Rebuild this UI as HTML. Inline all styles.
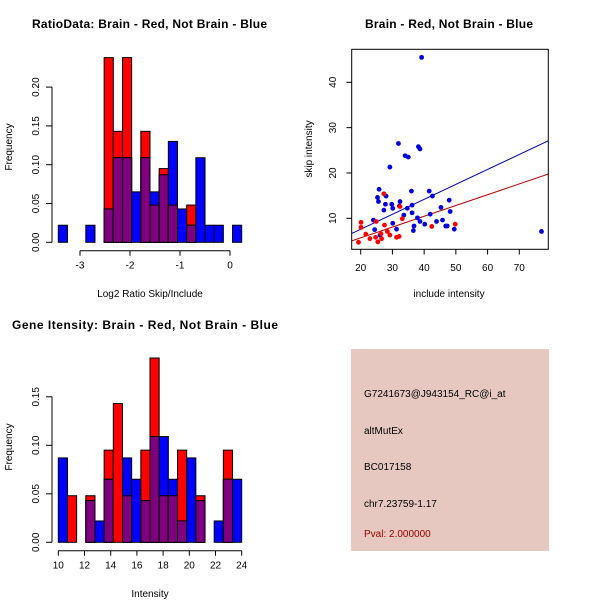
<!DOCTYPE html>
<html><head><meta charset="utf-8"><style>
body{margin:0;background:#fff}
svg text{font-family:"Liberation Sans",sans-serif}
</style></head><body>
<svg id="s" width="600" height="600" viewBox="0 0 600 600" xmlns="http://www.w3.org/2000/svg">
<rect width="600" height="600" fill="#fff"/>
<text x="149.5" y="28" font-size="12" font-weight="bold" text-anchor="middle" textLength="235">RatioData: Brain - Red, Not Brain - Blue</text>
<text x="449" y="28" font-size="12" font-weight="bold" text-anchor="middle" textLength="168">Brain - Red, Not Brain - Blue</text>
<text x="145" y="329" font-size="12" font-weight="bold" text-anchor="middle" textLength="266">Gene Itensity: Brain - Red, Not Brain - Blue</text>
<text x="150" y="297" font-size="10" text-anchor="middle">Log2 Ratio Skip/Include</text>
<text x="150" y="597" font-size="10" text-anchor="middle">Intensity</text>
<text x="449" y="297" font-size="10" text-anchor="middle">include intensity</text>
<text transform="translate(12,147) rotate(-90)" font-size="10" text-anchor="middle">Frequency</text>
<text transform="translate(12,447) rotate(-90)" font-size="10" text-anchor="middle">Frequency</text>
<text transform="translate(312,149) rotate(-90)" font-size="10" text-anchor="middle">skip intensity</text>
<g>
<rect x="351" y="349" width="198" height="202" fill="#e6c8c1"/>
<text x="364" y="397" font-size="10">G7241673@J943154_RC@i_at</text>
<text x="364" y="434" font-size="10">altMutEx</text>
<text x="364" y="470" font-size="10">BC017158</text>
<text x="364" y="507" font-size="10">chr7.23759-1.17</text>
<text x="364" y="537" font-size="10" fill="#a00000">Pval: 2.000000</text>
</g>
</svg>
<script>
const ratioRed=[0,0,0,0,0,0.238,0.143,0.238,0,0.143,0.048,0.095,0.048,0,0.048,0,0,0,0,0];
const ratioBlue=[0.022,0,0,0.022,0,0.043,0.109,0.109,0.065,0.109,0.065,0.087,0.130,0.043,0.022,0.109,0.022,0.022,0,0.022];
const ratioXTicks=[-3,-2,-1,0];
const ratioYTicks=[0,0.05,0.10,0.15,0.20];
const intRed=[0,0.048,0,0.048,0,0.095,0.143,0.048,0,0.095,0.190,0.048,0.048,0.095,0,0.048,0,0,0.095,0];
const intBlue=[0.087,0,0,0.043,0.022,0.065,0,0.087,0.065,0.043,0.109,0.109,0.065,0.022,0.087,0.043,0,0.022,0.065,0.065];
const intXTicks=[10,12,14,16,18,20,22,24];
const intYTicks=[0,0.05,0.10,0.15];
const blueX=[77.0,39.2,31.9,38.2,38.7,34.0,35.0,29.2,25.8,25.3,25.6,28.0,36.0,41.6,42.6,47.9,27.8,29.8,30.1,32.4,32.2,34.7,36.2,27.3,45.3,48.2,33.6,36.2,41.9,24.0,30.1,37.9,38.7,43.9,45.8,40.2,36.8,36.6,46.8,47.3,49.5,24.4,31.3,26.1];
const blueY=[7.1,45.5,26.5,25.8,25.3,23.8,23.5,21.3,16.4,14.6,13.7,14.9,16.0,16.0,14.9,14.0,13.1,13.1,12.2,13.7,12.7,12.2,12.9,11.8,12.4,11.5,10.7,11.2,10.9,9.6,8.9,10.1,9.3,9.3,9.6,8.7,8.3,7.3,8.3,8.3,7.6,7.5,7.6,6.3];
const redX=[19.3,20.1,20.1,21.6,22.9,24.9,24.7,25.4,26.6,26.4,27.3,27.5,28.4,29.2,31.3,32.1,32.4,33.1,42.4,49.8];
const redY=[4.7,9.1,8.0,6.5,5.5,9.3,5.8,4.8,5.5,6.6,15.4,8.5,7.1,6.3,5.8,6.0,12.6,9.9,8.2,8.7];
const blueFit=[0.985,0.33];  // intercept, slope
const redFit=[0.925,0.238];
const scXTicks=[20,30,40,50,60,70];
const scYTicks=[10,20,30,40];

const S=document.getElementById('s');
const NS='http://www.w3.org/2000/svg';
function mk(t,a,p){const e=document.createElementNS(NS,t);for(const k in a)e.setAttribute(k,a[k]);(p||S).appendChild(e);return e;}

function hist(name,red,blue,x0,bw,xTicks,yTicks,px0,px1,xd0,xd1,py0,yPer,axisY){
  const g=mk('g',{});
  
  
  const X=v=>px0+(v-xd0)/(xd1-xd0)*(px1-px0);
  const Y=v=>py0-v*yPer;
  for(let i=0;i<red.length;i++){
    const a=X(x0+i*bw),b=X(x0+(i+1)*bw);
    const r=red[i],bl=blue[i],m=Math.min(r,bl);
    if(r>0){const e=mk('rect',{x:a,y:Y(r),width:b-a,height:Y(0)-Y(r),fill:'#ff0000',stroke:'#000','stroke-width':1},g);
      }
    if(bl>0){const e=mk('rect',{x:a,y:Y(bl),width:b-a,height:Y(0)-Y(bl),fill:'#0000ff',stroke:'#000','stroke-width':1},g);
      }
    if(m>0){const e=mk('rect',{x:a,y:Y(m),width:b-a,height:Y(0)-Y(m),fill:'#7f007f',stroke:'#000','stroke-width':1},g);
      }
  }
  const ya=mk('g',{},g);
  mk('line',{x1:52,x2:52,y1:Y(yTicks[0]),y2:Y(yTicks[yTicks.length-1]),stroke:'#000'},ya);
  yTicks.forEach(v=>{mk('line',{x1:46,x2:52,y1:Y(v),y2:Y(v),stroke:'#000'},ya);
    const t=mk('text',{transform:`translate(39,${Y(v)}) rotate(-90)`,'font-size':10,'text-anchor':'middle'},ya);t.textContent=v.toFixed(2);});
  const xa=mk('g',{},g);
  mk('line',{x1:X(xTicks[0]),x2:X(xTicks[xTicks.length-1]),y1:axisY,y2:axisY,stroke:'#000'},xa);
  xTicks.forEach(v=>{mk('line',{x1:X(v),x2:X(v),y1:axisY,y2:axisY+5,stroke:'#000'},xa);
    const t=mk('text',{x:X(v),y:axisY+18,'font-size':10,'text-anchor':'middle'},xa);t.textContent=v;});
}
hist('ratio-histogram',ratioRed,ratioBlue,-3.434,0.1834,ratioXTicks,ratioYTicks,80,230,-3,0,242.3,776,250.7);
hist('intensity-histogram',intRed,intBlue,10,0.7,intXTicks,intYTicks,58.3,241.7,10,24,542.3,970,550.7);

const sg=mk('g',{});


const SX=v=>360.7+(v-20)*(158.6/50);
const SY=v=>218.3-(v-10)*(136/30);
const clip=mk('clipPath',{id:'c'},sg);mk('rect',{x:351.7,y:49.3,width:196.6,height:200},clip);
[[blueFit,'#0000c0','blue-fit-line'],[redFit,'#c00000','red-fit-line']].forEach(([f,c,n])=>{
  const l=mk('line',{x1:SX(17.2),y1:SY(f[0]+f[1]*17.2),x2:SX(79.2),y2:SY(f[0]+f[1]*79.2),stroke:c,'clip-path':'url(#c)'},sg);
  });
blueX.forEach((v,i)=>{const p=mk('circle',{cx:SX(v),cy:SY(blueY[i]),r:2.4,fill:'#0000e0'},sg);
  });
redX.forEach((v,i)=>{const p=mk('circle',{cx:SX(v),cy:SY(redY[i]),r:2.4,fill:'#ff0000'},sg);
  });
const fr=mk('rect',{x:351.7,y:49.3,width:196.6,height:200,fill:'none',stroke:'#000'},sg);

const sxa=mk('g',{},sg);
scXTicks.forEach(v=>{mk('line',{x1:SX(v),x2:SX(v),y1:249.3,y2:254.5,stroke:'#000'},sxa);
  const t=mk('text',{x:SX(v),y:271,'font-size':10,'text-anchor':'middle'},sxa);t.textContent=v;});
const sya=mk('g',{},sg);
scYTicks.forEach(v=>{mk('line',{x1:346.5,x2:351.7,y1:SY(v),y2:SY(v),stroke:'#000'},sya);
  const t=mk('text',{transform:`translate(336,${SY(v)}) rotate(-90)`,'font-size':10,'text-anchor':'middle'},sya);t.textContent=v;});
</script>
</body></html>
